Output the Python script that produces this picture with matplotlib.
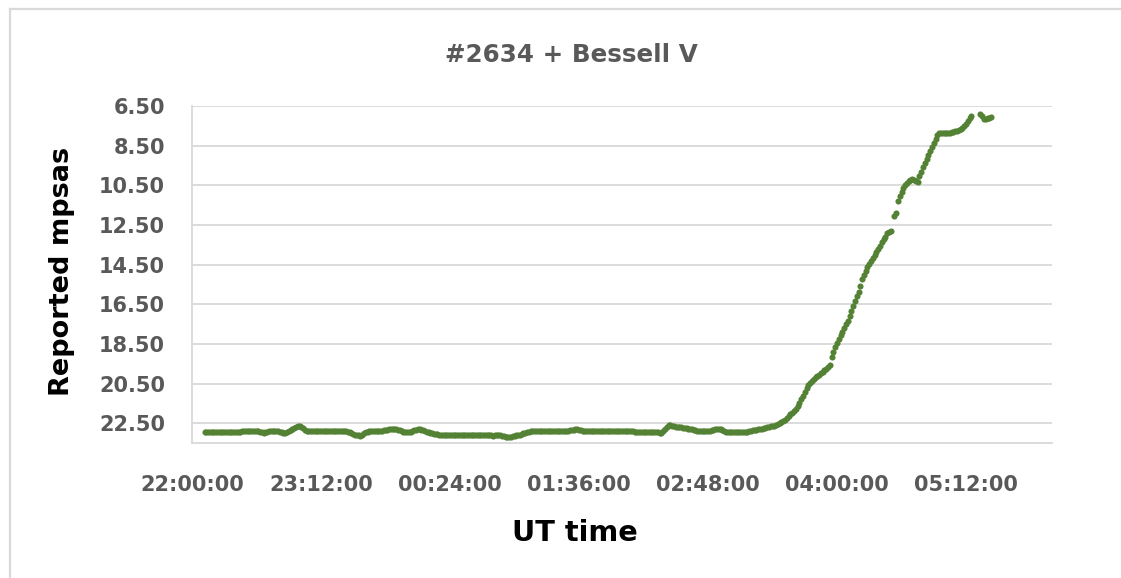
import matplotlib
matplotlib.use("Agg")
import matplotlib.pyplot as plt
from matplotlib.lines import Line2D
import numpy as np

# SQM readings for unit #2634 with a Bessell V filter, one per minute from 22:07 UT
first_minute = 7          # minutes after 22:00 UT
mpsas = [
    22.97, 22.97, 22.97, 22.97, 22.97, 22.97, 22.97, 22.97, 22.97, 22.97,
    22.97, 22.97, 22.97, 22.97, 22.97, 22.97, 22.97, 22.97, 22.97, 22.95,
    22.92, 22.90, 22.90, 22.90, 22.90, 22.90, 22.90, 22.90, 22.90, 22.90,
    22.90, 22.92, 22.97, 23.00, 22.95, 22.92, 22.90, 22.90, 22.90, 22.90,
    22.90, 22.90, 22.92, 22.95, 22.98, 23.00, 22.95, 22.88, 22.84, 22.80,
    22.74, 22.68, 22.64, 22.62, 22.68, 22.75, 22.82, 22.88, 22.90, 22.90,
    22.90, 22.90, 22.90, 22.90, 22.90, 22.90, 22.90, 22.90, 22.90, 22.90,
    22.90, 22.90, 22.90, 22.90, 22.90, 22.90, 22.90, 22.90, 22.90, 22.90,
    22.92, 22.95, 23.00, 23.05, 23.08, 23.10, 23.12, 23.13, 23.08, 23.02,
    22.96, 22.92, 22.90, 22.90, 22.90, 22.90, 22.90, 22.90, 22.89, 22.88,
    22.86, 22.85, 22.82, 22.80, 22.78, 22.77, 22.78, 22.80, 22.83, 22.85,
    22.88, 22.92, 22.95, 22.97, 22.95, 22.92, 22.88, 22.85, 22.82, 22.80,
    22.80, 22.82, 22.86, 22.90, 22.92, 22.95, 22.98, 23.02, 23.04, 23.06,
    23.07, 23.08, 23.08, 23.08, 23.08, 23.08, 23.08, 23.08, 23.08, 23.08,
    23.08, 23.08, 23.08, 23.08, 23.08, 23.08, 23.08, 23.08, 23.08, 23.08,
    23.08, 23.08, 23.08, 23.08, 23.08, 23.08, 23.08, 23.08, 23.08, 23.10,
    23.12, 23.13, 23.12, 23.10, 23.11, 23.12, 23.14, 23.16, 23.18, 23.19,
    23.19, 23.19, 23.17, 23.15, 23.12, 23.10, 23.08, 23.05, 23.02, 22.98,
    22.95, 22.92, 22.90, 22.88, 22.87, 22.87, 22.87, 22.87, 22.87, 22.87,
    22.87, 22.87, 22.87, 22.87, 22.87, 22.87, 22.87, 22.87, 22.87, 22.87,
    22.87, 22.87, 22.87, 22.87, 22.86, 22.85, 22.82, 22.80, 22.80, 22.82,
    22.85, 22.88, 22.90, 22.90, 22.90, 22.90, 22.90, 22.90, 22.90, 22.90,
    22.90, 22.90, 22.90, 22.90, 22.90, 22.90, 22.90, 22.90, 22.90, 22.90,
    22.90, 22.90, 22.90, 22.90, 22.90, 22.90, 22.90, 22.90, 22.90, 22.90,
    22.94, 22.97, 22.97, 22.97, 22.95, 22.95, 22.95, 22.95, 22.95, 22.95,
    22.95, 22.95, 22.95, 22.95, 22.98, 23.00, 22.90, 22.80, 22.68, 22.57,
    22.58, 22.62, 22.65, 22.67, 22.68, 22.70, 22.71, 22.72, 22.74, 22.75,
    22.77, 22.78, 22.80, 22.82, 22.85, 22.88, 22.90, 22.90, 22.90, 22.90,
    22.90, 22.90, 22.88, 22.85, 22.82, 22.80, 22.78, 22.77, 22.80, 22.85,
    22.90, 22.92, 22.94, 22.94, 22.94, 22.94, 22.94, 22.94, 22.94, 22.94,
    22.94, 22.94, 22.93, 22.92, 22.90, 22.88, 22.86, 22.85, 22.82, 22.80,
    22.78, 22.77, 22.75, 22.72, 22.70, 22.68, 22.66, 22.65, 22.62, 22.58,
    22.53, 22.48, 22.44, 22.40, 22.33, 22.25, 22.15, 22.05, 21.97, 21.90,
    21.78, 21.65, 21.48, 21.30, 21.12, 20.95, 20.75, 20.56, 20.45, 20.35,
    20.25, 20.15, 20.10, 20.05, 19.98, 19.90, 19.82, 19.75, 19.65, 19.55,
    19.15, 18.90, 18.65, 18.45, 18.25, 18.05, 17.88, 17.70, 17.52, 17.35,
    17.10, 16.85, 16.60, 16.35, 16.10, 15.90, 15.60, 15.25, 15.00, 14.80,
    14.60, 14.45, 14.30, 14.15, 14.00, 13.85, 13.70, 13.55, 13.38, 13.20,
    13.10, 12.90, 12.85, 12.82, np.nan, 12.05, 11.92, 11.30, 11.05, 10.85,
    10.63, 10.48, 10.38, 10.28, 10.23, 10.20, 10.22, 10.28, 10.33, 10.05,
    9.85, 9.60, 9.37, 9.15, 8.95, 8.75, 8.57, 8.35, 8.15, 7.95,
    7.88, 7.87, 7.86, 7.86, 7.86, 7.86, 7.84, 7.82, 7.80, 7.77,
    7.74, 7.71, 7.66, 7.60, 7.50, 7.40, 7.28, 7.12, 7.00, np.nan,
    np.nan, np.nan, np.nan, 6.90, 7.00, 7.15, 7.15, 7.12, 7.10, 7.08,
]
minutes = first_minute + np.arange(len(mpsas))

time_labels = ['22:00:00', '23:12:00', '00:24:00', '01:36:00',
               '02:48:00', '04:00:00', '05:12:00']
mag_ticks = [6.5, 8.5, 10.5, 12.5, 14.5, 16.5, 18.5, 20.5, 22.5]

grey_text = '#595959'
grid_grey = '#d9d9d9'
green = '#548235'

fig = plt.figure(figsize=(11.21, 5.78), dpi=100)
ax = fig.add_axes([192 / 1121, 1 - 443 / 578, 860 / 1121, 337 / 578])

ax.plot(minutes, mpsas, linestyle='none', marker='o', ms=4.4,
        color=green, markeredgewidth=0)

ax.set_xlim(0, 480)
ax.set_ylim(23.5, 6.5)
ax.set_xticks(72 * np.arange(len(time_labels)))
ax.set_xticklabels(time_labels)
ax.set_yticks(mag_ticks)
ax.set_yticklabels(['%.2f' % v for v in mag_ticks])

ax.tick_params(length=0, labelsize=15, labelcolor=grey_text)
ax.tick_params(axis='y', pad=19.5)
ax.tick_params(axis='x', pad=23)
for lab in ax.get_xticklabels() + ax.get_yticklabels():
    lab.set_fontweight('bold')

ax.grid(axis='y', color=grid_grey, linewidth=1.3)
ax.set_axisbelow(True)
for side in ('top', 'right'):
    ax.spines[side].set_visible(False)
for side in ('left', 'bottom'):
    ax.spines[side].set_color(grid_grey)
    ax.spines[side].set_linewidth(1.3)

fig.text(571 / 1121, 1 - 55 / 578, '#2634 + Bessell V', ha='center', va='center',
         fontsize=17.7, fontweight='bold', color=grey_text)
fig.text(62 / 1121, 1 - 271 / 578, 'Reported mpsas', ha='center', va='center',
         rotation=90, fontsize=19.5, fontweight='bold', color='black')
fig.text(575 / 1121, 1 - 533 / 578, 'UT time', ha='center', va='center',
         fontsize=20.7, fontweight='bold', color='black')

# chart frame
fig.add_artist(Line2D([10 / 1121, 10 / 1121], [0, 1 - 9 / 578],
                      transform=fig.transFigure, color=grid_grey, linewidth=1.6))
fig.add_artist(Line2D([10 / 1121, 1], [1 - 9 / 578, 1 - 9 / 578],
                      transform=fig.transFigure, color=grid_grey, linewidth=1.6))

fig.savefig('out.png', dpi=100)
